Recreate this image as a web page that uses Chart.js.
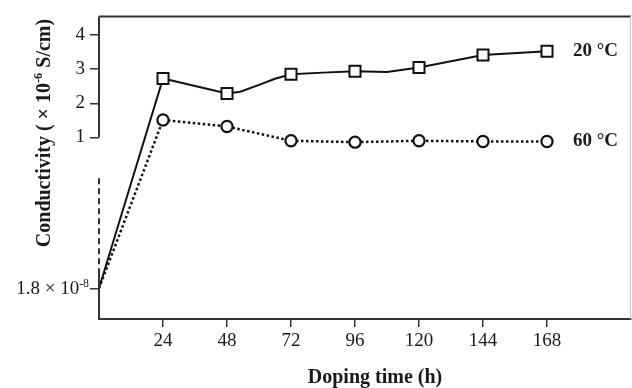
<!DOCTYPE html>
<html>
<head>
<meta charset="utf-8">
<script src="https://cdn.jsdelivr.net/npm/chart.js@4.4.0/dist/chart.umd.min.js"></script>
<style>
  html, body { margin: 0; padding: 0; background: #fff; }
  #wrap { width: 632px; height: 388px; position: relative; }
</style>
</head>
<body>
<div id="wrap"><canvas id="chart"></canvas></div>
<script>
// Doping time (h) of the marked points
const dopingHours = [0, 24, 48, 72, 96, 120, 144, 168]
// Conductivity in 1e-6 S/cm, first value is the undoped 1.8e-8 S/cm
const cond20 = [0.018, 2.73, 2.29, 2.85, 2.94, 3.05, 3.42, 3.53]
const cond60 = [0.018, 1.51, 1.32, 0.90, 0.86, 0.90, 0.88, 0.88]
// extra points read along the hand drawn 20 °C curve (no markers there)
const curve20Hours = [53, 60, 66, 84, 108]
const curve20Values = [2.34, 2.54, 2.72, 2.90, 2.92]

const xTicks = [24, 48, 72, 96, 120, 144, 168]
const yTicks = [1, 2, 3, 4]
const seriesLabels = ['20 °C', '60 °C']
const baseLabel = ['1.8 × 10', '-8']
const yTitle = ['Conductivity ( × 10', '-6', ' S/cm)']
const xTitle = 'Doping time (h)'

// y axis is broken, the undoped value sits below the gap
const BREAK_POS = -3.43
const toAxis = v => (v < 0.1 ? BREAK_POS : v)

const SERIF = "'Liberation Serif', 'Times New Roman', serif"
const INK = '#1a1a1a'
const AXIS = '#333'

const pts20 = dopingHours.map((h, i) => ({ x: h, y: toAxis(cond20[i]), mark: h > 0 }))
  .concat(curve20Hours.map((h, i) => ({ x: h, y: curve20Values[i], mark: false })))
  .sort((a, b) => a.x - b.x)
const pts60 = dopingHours.map((h, i) => ({ x: h, y: toAxis(cond60[i]), mark: h > 0 }))

// draw "text + superscript + text" pieces
function supText(ctx, parts, x, y, size, bold, align) {
  const w = parts.map((p, i) => {
    ctx.font = (bold ? 'bold ' : '') + (i === 1 ? size * 0.62 : size) + 'px ' + SERIF
    return ctx.measureText(p).width
  })
  const total = w.reduce((a, b) => a + b, 0)
  let cx = align === 'right' ? x - total : align === 'center' ? x - total / 2 : x
  parts.forEach((p, i) => {
    ctx.font = (bold ? 'bold ' : '') + (i === 1 ? size * 0.62 : size) + 'px ' + SERIF
    ctx.fillText(p, cx, i === 1 ? y - size * 0.4 : y)
    cx += w[i]
  })
}

const decorations = {
  id: 'decorations',
  afterDraw(chart) {
    const { ctx, chartArea: a, scales: { x, y } } = chart
    const seg = (x1, y1, x2, y2) => { ctx.beginPath(); ctx.moveTo(x1, y1); ctx.lineTo(x2, y2); ctx.stroke() }
    ctx.save()
    // frame: top and (faint) right
    ctx.strokeStyle = AXIS
    ctx.lineWidth = 2
    seg(a.left, a.top, a.right, a.top)
    ctx.strokeStyle = '#c8c8c8'
    ctx.lineWidth = 1
    seg(a.right - 0.5, a.top, a.right - 0.5, a.bottom)

    // broken y axis
    const ax = a.left
    ctx.strokeStyle = AXIS
    ctx.lineWidth = 2
    seg(ax, a.top, ax, y.getPixelForValue(1))
    seg(ax, y.getPixelForValue(-2.92), ax, a.bottom)
    ctx.setLineDash([6, 4])
    seg(ax, y.getPixelForValue(-0.2), ax, y.getPixelForValue(-2.92))
    ctx.setLineDash([])

    ctx.fillStyle = INK
    ctx.textBaseline = 'alphabetic'
    // base tick label
    supText(ctx, baseLabel, 89, y.getPixelForValue(BREAK_POS) + 6, 19, false, 'right')

    // series labels at the right end
    const last = dopingHours.length - 1
    ctx.font = 'bold 19px ' + SERIF
    ctx.textBaseline = 'middle'
    ctx.fillText(seriesLabels[0], x.getPixelForValue(168) + 26, y.getPixelForValue(cond20[last]))
    ctx.fillText(seriesLabels[1], x.getPixelForValue(168) + 26, y.getPixelForValue(cond60[last]))

    // axis titles
    ctx.textBaseline = 'alphabetic'
    ctx.font = 'bold 20px ' + SERIF
    ctx.textAlign = 'center'
    ctx.fillText(xTitle, 375, 383)
    ctx.textAlign = 'left'
    ctx.translate(50, 133)
    ctx.rotate(-Math.PI / 2)
    supText(ctx, yTitle, 0, 0, 20, true, 'center')
    ctx.restore()
  }
}

new Chart(document.getElementById('chart'), {
  type: 'line',
  data: {
    datasets: [
      {
        label: seriesLabels[0],
        data: pts20,
        borderColor: '#111',
        borderWidth: 2,
        pointStyle: 'rect',
        pointRadius: c => (c.raw && c.raw.mark ? 7.8 : 0),
        pointBackgroundColor: '#fff',
        pointBorderColor: '#111',
        pointBorderWidth: 2,
        tension: 0
      },
      {
        label: seriesLabels[1],
        data: pts60,
        borderColor: '#111',
        borderWidth: 2.5,
        borderDash: [2.5, 2.5],
        pointStyle: 'circle',
        pointRadius: c => (c.raw && c.raw.mark ? 5.6 : 0),
        pointBackgroundColor: '#fff',
        pointBorderColor: '#111',
        pointBorderWidth: 2.2,
        tension: 0
      }
    ]
  },
  options: {
    responsive: true,
    maintainAspectRatio: false,
    animation: false,
    layout: { autoPadding: false, padding: { top: 13, right: 1, left: 0, bottom: 0 } },
    plugins: {
      legend: { display: false },
      tooltip: { enabled: false }
    },
    scales: {
      x: {
        type: 'linear',
        min: 0,
        max: 199.5,
        afterBuildTicks: s => { s.ticks = xTicks.map(v => ({ value: v })) },
        afterFit: s => { s.height = 69 },
        grid: { drawOnChartArea: false, drawTicks: true, tickLength: 8, color: AXIS, lineWidth: 1.5 },
        border: { display: true, color: AXIS, width: 2 },
        ticks: { color: INK, padding: 3, maxRotation: 0, font: { family: SERIF, size: 19 } }
      },
      y: {
        type: 'linear',
        min: -4.33,
        max: 4.55,
        afterBuildTicks: s => { s.ticks = [BREAK_POS].concat(yTicks).map(v => ({ value: v })) },
        afterFit: s => { s.width = 99 },
        grid: { drawOnChartArea: false, drawTicks: true, tickLength: 9, color: AXIS, lineWidth: 1.5 },
        border: { display: false },
        ticks: {
          color: INK,
          padding: 5,
          font: { family: SERIF, size: 19 },
          callback: v => (v === BREAK_POS ? '' : v)
        }
      }
    }
  },
  plugins: [decorations]
})
</script>
</body>
</html>
